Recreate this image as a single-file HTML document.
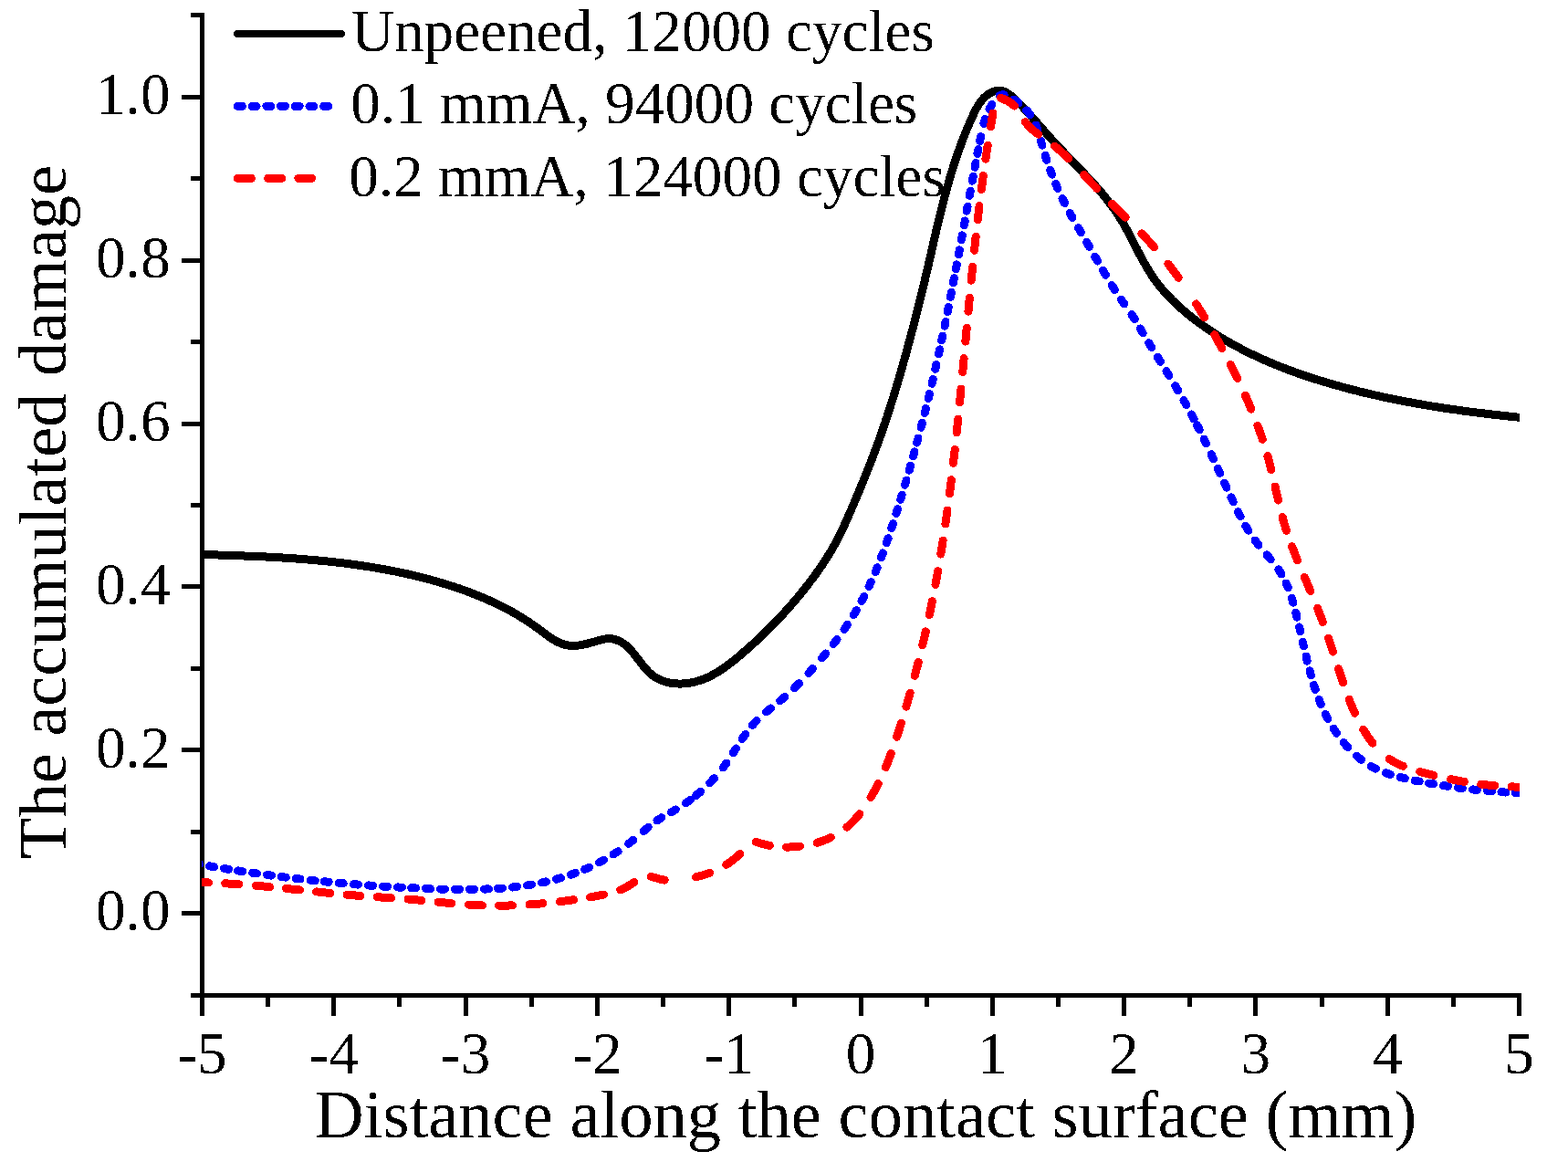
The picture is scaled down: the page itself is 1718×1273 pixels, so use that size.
<!DOCTYPE html>
<html lang="en"><head><meta charset="utf-8"><title>The accumulated damage vs distance along the contact surface</title>
<style>html,body{margin:0;padding:0;background:#fff;overflow:hidden}svg{display:block}</style>
</head><body>
<svg width="1718" height="1273" viewBox="0 0 1718 1273">
<defs>
<clipPath id="pa"><rect x="221" y="0" width="1444" height="1093"/></clipPath>
<filter id="bin" filterUnits="userSpaceOnUse" x="0" y="0" width="1718" height="1273"><feComponentTransfer><feFuncA type="discrete" tableValues="0 1"/></feComponentTransfer></filter>
</defs>
<rect width="1718" height="1273" fill="#fff"/>
<g fill="#000" shape-rendering="crispEdges">
<rect x="219" y="14" width="5" height="1079"/>
<rect x="219" y="1088" width="1448" height="5"/>
<rect x="209" y="1088" width="10" height="5"/>
<rect x="199" y="998" width="20" height="5"/>
<rect x="209" y="909" width="10" height="5"/>
<rect x="199" y="819" width="20" height="5"/>
<rect x="209" y="730" width="10" height="5"/>
<rect x="199" y="640" width="20" height="5"/>
<rect x="209" y="551" width="10" height="5"/>
<rect x="199" y="462" width="20" height="5"/>
<rect x="209" y="372" width="10" height="5"/>
<rect x="199" y="283" width="20" height="5"/>
<rect x="209" y="193" width="10" height="5"/>
<rect x="199" y="104" width="20" height="5"/>
<rect x="209" y="14" width="10" height="5"/>
<rect x="219" y="1093" width="5" height="20"/>
<rect x="291" y="1093" width="5" height="10"/>
<rect x="363" y="1093" width="5" height="20"/>
<rect x="435" y="1093" width="5" height="10"/>
<rect x="508" y="1093" width="5" height="20"/>
<rect x="580" y="1093" width="5" height="10"/>
<rect x="652" y="1093" width="5" height="20"/>
<rect x="724" y="1093" width="5" height="10"/>
<rect x="796" y="1093" width="5" height="20"/>
<rect x="868" y="1093" width="5" height="10"/>
<rect x="941" y="1093" width="5" height="20"/>
<rect x="1013" y="1093" width="5" height="10"/>
<rect x="1085" y="1093" width="5" height="20"/>
<rect x="1157" y="1093" width="5" height="10"/>
<rect x="1229" y="1093" width="5" height="20"/>
<rect x="1301" y="1093" width="5" height="10"/>
<rect x="1373" y="1093" width="5" height="20"/>
<rect x="1446" y="1093" width="5" height="10"/>
<rect x="1518" y="1093" width="5" height="20"/>
<rect x="1590" y="1093" width="5" height="10"/>
<rect x="1662" y="1093" width="5" height="20"/>
</g>
<g clip-path="url(#pa)" shape-rendering="crispEdges">
<path d="M218.0,607.4 L219.5,607.4 L221.0,607.5 L222.5,607.5 L224.0,607.6 L225.4,607.6 L226.9,607.6 L228.4,607.7 L229.9,607.7 L231.4,607.8 L232.9,607.8 L234.4,607.9 L235.9,607.9 L237.4,607.9 L238.9,608.0 L240.4,608.0 L241.9,608.1 L243.4,608.1 L244.8,608.2 L246.3,608.2 L247.8,608.3 L249.3,608.3 L250.8,608.4 L252.3,608.4 L253.8,608.5 L255.3,608.5 L256.8,608.6 L258.3,608.6 L259.8,608.7 L261.3,608.7 L262.8,608.8 L264.3,608.8 L265.8,608.9 L267.3,609.0 L268.8,609.0 L270.3,609.1 L271.8,609.1 L273.3,609.2 L274.8,609.3 L276.3,609.3 L277.8,609.4 L279.3,609.4 L280.8,609.5 L282.3,609.6 L283.8,609.6 L285.3,609.7 L286.8,609.8 L288.3,609.9 L289.8,609.9 L291.3,610.0 L292.8,610.1 L294.3,610.2 L295.8,610.2 L297.3,610.3 L298.8,610.4 L300.3,610.5 L301.8,610.6 L303.4,610.7 L304.9,610.7 L306.4,610.8 L307.9,610.9 L309.4,611.0 L310.9,611.1 L312.4,611.2 L313.9,611.3 L315.4,611.4 L316.9,611.5 L318.4,611.6 L319.9,611.7 L321.4,611.8 L322.9,611.9 L324.4,612.0 L325.9,612.1 L327.4,612.2 L328.9,612.3 L330.4,612.5 L331.9,612.6 L333.4,612.7 L334.9,612.8 L336.4,612.9 L337.9,613.1 L339.4,613.2 L340.9,613.3 L342.4,613.4 L343.9,613.6 L345.4,613.7 L346.9,613.9 L348.4,614.0 L349.9,614.1 L351.4,614.3 L352.9,614.4 L354.4,614.6 L355.9,614.7 L357.4,614.9 L358.9,615.0 L360.4,615.2 L361.8,615.3 L363.3,615.5 L364.8,615.7 L366.3,615.8 L367.8,616.0 L369.3,616.2 L370.8,616.3 L372.3,616.5 L373.8,616.7 L375.3,616.9 L376.8,617.0 L378.3,617.2 L379.8,617.4 L381.3,617.6 L382.7,617.8 L384.2,618.0 L385.7,618.2 L387.2,618.4 L388.7,618.6 L390.2,618.8 L391.7,619.0 L393.2,619.2 L394.6,619.4 L396.1,619.6 L397.6,619.9 L399.1,620.1 L400.6,620.3 L402.1,620.5 L403.5,620.8 L405.0,621.0 L406.5,621.2 L408.0,621.5 L409.5,621.7 L410.9,622.0 L412.4,622.2 L413.9,622.5 L415.4,622.7 L416.8,623.0 L418.3,623.3 L419.8,623.5 L421.3,623.8 L422.7,624.1 L424.2,624.3 L425.7,624.6 L427.1,624.9 L428.6,625.2 L430.1,625.5 L431.6,625.7 L433.0,626.0 L434.5,626.3 L436.0,626.6 L437.4,626.9 L438.9,627.3 L440.3,627.6 L441.8,627.9 L443.3,628.2 L444.7,628.5 L446.2,628.8 L447.6,629.2 L449.1,629.5 L450.6,629.8 L452.0,630.2 L453.5,630.5 L454.9,630.9 L456.4,631.2 L457.8,631.6 L459.3,631.9 L460.7,632.3 L462.2,632.7 L463.6,633.0 L465.1,633.4 L466.5,633.8 L468.0,634.2 L469.4,634.5 L470.9,634.9 L472.3,635.3 L473.7,635.7 L475.2,636.1 L476.6,636.5 L478.0,636.9 L479.5,637.4 L480.9,637.8 L482.4,638.2 L483.8,638.6 L485.2,639.0 L486.7,639.5 L488.1,639.9 L489.5,640.4 L490.9,640.8 L492.4,641.3 L493.8,641.7 L495.2,642.2 L496.6,642.6 L498.1,643.1 L499.5,643.6 L500.9,644.1 L502.3,644.5 L503.7,645.0 L505.1,645.5 L506.5,646.0 L508.0,646.5 L509.4,647.0 L510.8,647.5 L512.2,648.0 L513.6,648.6 L515.0,649.1 L516.4,649.6 L517.8,650.2 L519.2,650.7 L520.6,651.2 L522.0,651.8 L523.3,652.4 L524.7,652.9 L526.1,653.5 L527.5,654.1 L528.9,654.6 L530.3,655.2 L531.6,655.8 L533.0,656.4 L534.4,657.0 L535.8,657.6 L537.1,658.3 L538.5,658.9 L539.9,659.5 L541.2,660.1 L542.6,660.8 L543.9,661.4 L545.3,662.1 L546.6,662.7 L548.0,663.4 L549.3,664.1 L550.7,664.8 L552.0,665.4 L553.3,666.1 L554.7,666.8 L556.0,667.5 L557.3,668.3 L558.6,669.0 L560.0,669.7 L561.3,670.4 L562.6,671.2 L563.9,671.9 L565.2,672.7 L566.5,673.4 L567.8,674.2 L569.1,675.0 L570.4,675.8 L571.7,676.6 L573.0,677.4 L574.3,678.2 L575.5,679.0 L576.8,679.8 L578.1,680.6 L579.4,681.5 L580.6,682.3 L581.9,683.2 L583.1,684.0 L584.4,684.9 L585.6,685.8 L586.9,686.7 L588.1,687.6 L589.4,688.5 L590.6,689.4 L591.8,690.3 L593.1,691.2 L594.3,692.1 L595.5,693.0 L596.7,694.0 L598.0,694.9 L599.2,695.8 L600.4,696.7 L601.6,697.5 L602.9,698.4 L604.1,699.2 L605.3,700.0 L606.6,700.8 L607.9,701.6 L609.1,702.3 L610.4,703.0 L611.7,703.6 L613.0,704.2 L614.3,704.8 L615.6,705.3 L616.9,705.7 L618.3,706.1 L619.6,706.5 L621.0,706.8 L622.4,707.0 L623.8,707.2 L625.2,707.3 L626.6,707.3 L628.1,707.3 L629.5,707.3 L631.0,707.2 L632.5,707.1 L633.9,707.0 L635.4,706.8 L636.9,706.5 L638.4,706.3 L639.9,706.0 L641.4,705.7 L642.9,705.3 L644.4,704.9 L646.0,704.5 L647.5,704.1 L649.0,703.7 L650.5,703.3 L652.0,702.8 L653.5,702.4 L655.0,701.9 L656.6,701.5 L658.0,701.1 L659.5,700.7 L661.0,700.4 L662.5,700.1 L664.0,699.9 L665.4,699.8 L666.9,699.7 L668.3,699.7 L669.7,699.8 L671.1,700.0 L672.5,700.2 L673.8,700.6 L675.2,701.0 L676.5,701.5 L677.8,702.0 L679.1,702.6 L680.4,703.3 L681.6,704.0 L682.8,704.8 L684.0,705.7 L685.2,706.6 L686.3,707.5 L687.4,708.5 L688.5,709.6 L689.6,710.6 L690.6,711.7 L691.7,712.9 L692.7,714.0 L693.7,715.2 L694.7,716.4 L695.6,717.7 L696.6,718.9 L697.6,720.2 L698.6,721.4 L699.5,722.7 L700.5,723.9 L701.5,725.2 L702.4,726.5 L703.4,727.7 L704.4,729.0 L705.4,730.2 L706.4,731.4 L707.4,732.6 L708.4,733.7 L709.5,734.8 L710.5,735.9 L711.6,737.0 L712.7,738.0 L713.9,739.0 L715.0,739.9 L716.2,740.8 L717.5,741.6 L718.7,742.4 L720.0,743.2 L721.3,743.8 L722.6,744.5 L723.9,745.1 L725.3,745.6 L726.7,746.1 L728.1,746.6 L729.5,747.0 L730.9,747.4 L732.4,747.7 L733.8,748.0 L735.3,748.3 L736.8,748.5 L738.2,748.7 L739.7,748.8 L741.2,748.9 L742.8,749.0 L744.3,749.0 L745.8,749.0 L747.3,749.0 L748.8,748.9 L750.3,748.8 L751.8,748.6 L753.4,748.4 L754.9,748.2 L756.4,748.0 L757.8,747.7 L759.3,747.4 L760.8,747.1 L762.3,746.7 L763.7,746.3 L765.2,745.9 L766.6,745.5 L768.0,745.0 L769.4,744.5 L770.8,744.0 L772.2,743.4 L773.6,742.9 L774.9,742.3 L776.3,741.7 L777.6,741.0 L778.9,740.4 L780.2,739.7 L781.5,739.0 L782.8,738.3 L784.1,737.5 L785.4,736.8 L786.7,736.0 L787.9,735.2 L789.2,734.4 L790.4,733.6 L791.7,732.8 L792.9,731.9 L794.1,731.1 L795.4,730.2 L796.6,729.3 L797.8,728.4 L799.0,727.5 L800.2,726.6 L801.3,725.7 L802.5,724.8 L803.7,723.8 L804.9,722.9 L806.0,721.9 L807.2,721.0 L808.4,720.0 L809.5,719.0 L810.7,718.1 L811.8,717.1 L812.9,716.1 L814.1,715.1 L815.2,714.1 L816.4,713.2 L817.5,712.2 L818.6,711.2 L819.7,710.2 L820.9,709.2 L822.0,708.2 L823.1,707.2 L824.2,706.2 L825.3,705.2 L826.4,704.2 L827.5,703.2 L828.6,702.1 L829.7,701.1 L830.8,700.1 L831.9,699.1 L833.0,698.1 L834.1,697.0 L835.1,696.0 L836.2,695.0 L837.3,693.9 L838.4,692.9 L839.4,691.8 L840.5,690.8 L841.6,689.7 L842.6,688.7 L843.7,687.6 L844.7,686.6 L845.8,685.5 L846.8,684.5 L847.9,683.4 L848.9,682.3 L849.9,681.3 L851.0,680.2 L852.0,679.1 L853.0,678.0 L854.0,676.9 L855.1,675.8 L856.1,674.8 L857.1,673.7 L858.1,672.6 L859.1,671.5 L860.1,670.4 L861.1,669.2 L862.1,668.1 L863.1,667.0 L864.1,665.9 L865.1,664.8 L866.1,663.7 L867.1,662.5 L868.1,661.4 L869.0,660.3 L870.0,659.1 L871.0,658.0 L871.9,656.8 L872.9,655.7 L873.9,654.5 L874.8,653.4 L875.8,652.2 L876.7,651.1 L877.7,649.9 L878.6,648.7 L879.6,647.6 L880.5,646.4 L881.5,645.2 L882.4,644.0 L883.3,642.8 L884.3,641.6 L885.2,640.5 L886.1,639.3 L887.0,638.0 L887.9,636.8 L888.8,635.6 L889.8,634.4 L890.7,633.2 L891.6,632.0 L892.5,630.8 L893.4,629.5 L894.3,628.3 L895.1,627.1 L896.0,625.8 L896.9,624.6 L897.8,623.3 L898.7,622.1 L899.5,620.8 L900.4,619.6 L901.2,618.3 L902.1,617.0 L902.9,615.8 L903.8,614.5 L904.6,613.2 L905.4,611.9 L906.2,610.7 L907.0,609.4 L907.8,608.1 L908.6,606.8 L909.4,605.5 L910.2,604.2 L910.9,602.9 L911.7,601.6 L912.4,600.3 L913.2,599.0 L913.9,597.7 L914.6,596.4 L915.3,595.1 L916.0,593.8 L916.7,592.5 L917.4,591.1 L918.1,589.8 L918.8,588.5 L919.4,587.2 L920.1,585.8 L920.8,584.5 L921.4,583.2 L922.0,581.8 L922.7,580.5 L923.3,579.2 L923.9,577.8 L924.6,576.5 L925.2,575.1 L925.8,573.8 L926.4,572.4 L927.0,571.1 L927.6,569.7 L928.2,568.4 L928.8,567.0 L929.4,565.7 L930.0,564.3 L930.6,563.0 L931.2,561.6 L931.8,560.3 L932.4,558.9 L933.0,557.5 L933.6,556.2 L934.2,554.8 L934.7,553.4 L935.3,552.1 L935.9,550.7 L936.5,549.3 L937.1,548.0 L937.7,546.6 L938.2,545.2 L938.8,543.9 L939.4,542.5 L940.0,541.1 L940.6,539.7 L941.1,538.4 L941.7,537.0 L942.3,535.6 L942.9,534.2 L943.4,532.8 L944.0,531.5 L944.6,530.1 L945.1,528.7 L945.7,527.3 L946.3,525.9 L946.8,524.5 L947.4,523.1 L948.0,521.7 L948.5,520.4 L949.1,519.0 L949.6,517.6 L950.2,516.2 L950.7,514.8 L951.3,513.4 L951.8,512.0 L952.4,510.6 L952.9,509.2 L953.5,507.8 L954.0,506.4 L954.6,505.0 L955.1,503.6 L955.6,502.2 L956.2,500.8 L956.7,499.4 L957.2,498.0 L957.8,496.6 L958.3,495.2 L958.8,493.8 L959.3,492.4 L959.9,491.0 L960.4,489.6 L960.9,488.1 L961.4,486.7 L961.9,485.3 L962.4,483.9 L963.0,482.5 L963.5,481.1 L964.0,479.7 L964.5,478.3 L965.0,476.8 L965.5,475.4 L966.0,474.0 L966.5,472.6 L966.9,471.2 L967.4,469.7 L967.9,468.3 L968.4,466.9 L968.9,465.5 L969.4,464.1 L969.9,462.6 L970.3,461.2 L970.8,459.8 L971.3,458.4 L971.8,456.9 L972.2,455.5 L972.7,454.1 L973.2,452.7 L973.6,451.2 L974.1,449.8 L974.6,448.4 L975.0,446.9 L975.5,445.5 L975.9,444.1 L976.4,442.6 L976.8,441.2 L977.3,439.8 L977.7,438.3 L978.2,436.9 L978.6,435.5 L979.1,434.0 L979.5,432.6 L980.0,431.2 L980.4,429.7 L980.8,428.3 L981.3,426.8 L981.7,425.4 L982.1,424.0 L982.6,422.5 L983.0,421.1 L983.4,419.6 L983.9,418.2 L984.3,416.8 L984.7,415.3 L985.1,413.9 L985.6,412.4 L986.0,411.0 L986.4,409.5 L986.8,408.1 L987.2,406.7 L987.7,405.2 L988.1,403.8 L988.5,402.3 L988.9,400.9 L989.3,399.4 L989.7,398.0 L990.1,396.5 L990.5,395.1 L990.9,393.6 L991.3,392.2 L991.7,390.7 L992.2,389.3 L992.6,387.8 L993.0,386.4 L993.4,384.9 L993.8,383.5 L994.2,382.0 L994.5,380.6 L994.9,379.1 L995.3,377.7 L995.7,376.2 L996.1,374.8 L996.5,373.3 L996.9,371.9 L997.3,370.4 L997.7,369.0 L998.1,367.5 L998.5,366.0 L998.8,364.6 L999.2,363.1 L999.6,361.7 L1000.0,360.2 L1000.4,358.8 L1000.8,357.3 L1001.1,355.9 L1001.5,354.4 L1001.9,352.9 L1002.3,351.5 L1002.7,350.0 L1003.0,348.6 L1003.4,347.1 L1003.8,345.7 L1004.1,344.2 L1004.5,342.7 L1004.9,341.3 L1005.3,339.8 L1005.6,338.4 L1006.0,336.9 L1006.4,335.4 L1006.7,334.0 L1007.1,332.5 L1007.4,331.1 L1007.8,329.6 L1008.2,328.2 L1008.5,326.7 L1008.9,325.2 L1009.2,323.8 L1009.6,322.3 L1010.0,320.9 L1010.3,319.4 L1010.7,317.9 L1011.0,316.5 L1011.4,315.0 L1011.7,313.6 L1012.1,312.1 L1012.4,310.6 L1012.8,309.2 L1013.1,307.7 L1013.5,306.3 L1013.8,304.8 L1014.1,303.4 L1014.5,301.9 L1014.8,300.4 L1015.2,299.0 L1015.5,297.5 L1015.8,296.1 L1016.2,294.6 L1016.5,293.1 L1016.9,291.7 L1017.2,290.2 L1017.5,288.8 L1017.9,287.3 L1018.2,285.9 L1018.5,284.4 L1018.9,282.9 L1019.2,281.5 L1019.5,280.0 L1019.9,278.6 L1020.2,277.1 L1020.5,275.7 L1020.9,274.2 L1021.2,272.8 L1021.5,271.3 L1021.9,269.9 L1022.2,268.4 L1022.5,266.9 L1022.9,265.5 L1023.2,264.0 L1023.5,262.6 L1023.9,261.1 L1024.2,259.7 L1024.5,258.2 L1024.9,256.8 L1025.2,255.3 L1025.6,253.9 L1025.9,252.4 L1026.2,251.0 L1026.6,249.5 L1026.9,248.1 L1027.3,246.6 L1027.6,245.2 L1028.0,243.7 L1028.3,242.3 L1028.7,240.8 L1029.0,239.4 L1029.4,237.9 L1029.7,236.5 L1030.1,235.0 L1030.4,233.6 L1030.8,232.2 L1031.1,230.7 L1031.5,229.3 L1031.9,227.8 L1032.2,226.4 L1032.6,224.9 L1033.0,223.5 L1033.3,222.1 L1033.7,220.6 L1034.1,219.2 L1034.5,217.7 L1034.8,216.3 L1035.2,214.8 L1035.6,213.4 L1036.0,212.0 L1036.4,210.5 L1036.8,209.1 L1037.2,207.7 L1037.6,206.2 L1038.0,204.8 L1038.4,203.3 L1038.8,201.9 L1039.2,200.5 L1039.6,199.0 L1040.0,197.6 L1040.4,196.2 L1040.8,194.7 L1041.3,193.3 L1041.7,191.9 L1042.1,190.4 L1042.6,189.0 L1043.0,187.6 L1043.4,186.2 L1043.9,184.7 L1044.3,183.3 L1044.8,181.9 L1045.2,180.4 L1045.7,179.0 L1046.2,177.6 L1046.6,176.2 L1047.1,174.7 L1047.6,173.3 L1048.1,171.9 L1048.5,170.5 L1049.0,169.0 L1049.5,167.6 L1050.0,166.2 L1050.5,164.8 L1051.0,163.3 L1051.5,161.9 L1052.1,160.5 L1052.6,159.1 L1053.1,157.6 L1053.6,156.2 L1054.2,154.8 L1054.7,153.4 L1055.2,152.0 L1055.8,150.5 L1056.4,149.1 L1056.9,147.7 L1057.5,146.3 L1058.1,144.9 L1058.6,143.4 L1059.2,142.0 L1059.8,140.6 L1060.4,139.2 L1061.0,137.8 L1061.6,136.4 L1062.2,135.0 L1062.8,133.5 L1063.5,132.1 L1064.1,130.7 L1064.7,129.3 L1065.4,127.9 L1066.0,126.5 L1066.7,125.1 L1067.3,123.7 L1068.0,122.3 L1068.7,120.9 L1069.4,119.5 L1070.2,118.2 L1070.9,116.9 L1071.7,115.5 L1072.5,114.3 L1073.3,113.0 L1074.2,111.8 L1075.1,110.6 L1076.0,109.5 L1077.0,108.4 L1078.0,107.3 L1079.1,106.3 L1080.2,105.3 L1081.3,104.4 L1082.5,103.5 L1083.7,102.7 L1085.0,101.9 L1086.3,101.2 L1087.7,100.6 L1089.0,100.1 L1090.4,99.7 L1091.8,99.4 L1093.1,99.2 L1094.4,99.2 L1095.8,99.2 L1097.1,99.4 L1098.3,99.7 L1099.6,100.1 L1100.8,100.6 L1102.1,101.2 L1103.3,101.8 L1104.5,102.6 L1105.7,103.4 L1106.8,104.2 L1108.0,105.1 L1109.2,106.1 L1110.3,107.1 L1111.4,108.1 L1112.6,109.2 L1113.7,110.2 L1114.8,111.3 L1115.9,112.4 L1117.0,113.5 L1118.1,114.6 L1119.2,115.7 L1120.3,116.8 L1121.3,117.9 L1122.4,119.1 L1123.5,120.2 L1124.5,121.4 L1125.6,122.5 L1126.6,123.7 L1127.7,124.8 L1128.7,126.0 L1129.7,127.1 L1130.8,128.3 L1131.8,129.5 L1132.8,130.6 L1133.9,131.8 L1134.9,133.0 L1135.9,134.1 L1136.9,135.3 L1137.9,136.4 L1138.9,137.6 L1139.9,138.8 L1140.9,139.9 L1141.9,141.0 L1142.9,142.2 L1143.9,143.3 L1144.9,144.4 L1145.9,145.5 L1146.9,146.7 L1147.9,147.8 L1148.9,148.9 L1149.9,150.0 L1150.9,151.1 L1151.8,152.2 L1152.8,153.2 L1153.8,154.3 L1154.8,155.4 L1155.8,156.5 L1156.8,157.6 L1157.8,158.6 L1158.8,159.7 L1159.8,160.8 L1160.8,161.8 L1161.8,162.9 L1162.8,164.0 L1163.8,165.0 L1164.8,166.1 L1165.8,167.2 L1166.8,168.2 L1167.8,169.3 L1168.8,170.4 L1169.8,171.4 L1170.8,172.5 L1171.8,173.5 L1172.9,174.6 L1173.9,175.7 L1174.9,176.7 L1176.0,177.8 L1177.0,178.9 L1178.0,180.0 L1179.1,181.0 L1180.1,182.1 L1181.2,183.2 L1182.2,184.3 L1183.3,185.4 L1184.3,186.5 L1185.4,187.6 L1186.4,188.6 L1187.5,189.7 L1188.5,190.8 L1189.5,191.9 L1190.6,193.1 L1191.6,194.2 L1192.7,195.3 L1193.7,196.4 L1194.8,197.5 L1195.8,198.6 L1196.8,199.8 L1197.8,200.9 L1198.9,202.0 L1199.9,203.2 L1200.9,204.3 L1201.9,205.4 L1202.9,206.6 L1203.9,207.7 L1204.9,208.9 L1205.9,210.1 L1206.9,211.2 L1207.8,212.4 L1208.8,213.6 L1209.8,214.7 L1210.7,215.9 L1211.7,217.1 L1212.6,218.3 L1213.5,219.5 L1214.5,220.7 L1215.4,221.9 L1216.3,223.1 L1217.2,224.3 L1218.1,225.5 L1219.0,226.7 L1219.8,228.0 L1220.7,229.2 L1221.6,230.4 L1222.4,231.7 L1223.3,232.9 L1224.1,234.1 L1224.9,235.4 L1225.7,236.6 L1226.5,237.9 L1227.3,239.1 L1228.1,240.4 L1228.9,241.6 L1229.6,242.9 L1230.4,244.2 L1231.1,245.5 L1231.9,246.7 L1232.6,248.0 L1233.3,249.3 L1234.0,250.6 L1234.7,251.9 L1235.4,253.2 L1236.1,254.5 L1236.8,255.8 L1237.5,257.1 L1238.2,258.4 L1238.9,259.7 L1239.5,261.0 L1240.2,262.3 L1240.9,263.6 L1241.6,265.0 L1242.2,266.3 L1242.9,267.6 L1243.6,268.9 L1244.3,270.3 L1245.0,271.6 L1245.7,272.9 L1246.3,274.3 L1247.0,275.6 L1247.7,276.9 L1248.4,278.3 L1249.1,279.6 L1249.8,280.9 L1250.5,282.3 L1251.3,283.6 L1252.0,284.9 L1252.7,286.2 L1253.4,287.5 L1254.2,288.8 L1254.9,290.2 L1255.7,291.5 L1256.4,292.8 L1257.2,294.0 L1258.0,295.3 L1258.8,296.6 L1259.6,297.9 L1260.4,299.2 L1261.2,300.4 L1262.0,301.7 L1262.8,302.9 L1263.7,304.2 L1264.5,305.4 L1265.4,306.6 L1266.3,307.8 L1267.2,309.0 L1268.1,310.2 L1269.0,311.4 L1269.9,312.6 L1270.9,313.8 L1271.8,315.0 L1272.8,316.1 L1273.7,317.3 L1274.7,318.4 L1275.7,319.5 L1276.7,320.7 L1277.7,321.8 L1278.7,322.9 L1279.7,324.0 L1280.8,325.1 L1281.8,326.2 L1282.9,327.2 L1283.9,328.3 L1285.0,329.4 L1286.1,330.4 L1287.1,331.5 L1288.2,332.5 L1289.3,333.5 L1290.4,334.6 L1291.5,335.6 L1292.7,336.6 L1293.8,337.6 L1294.9,338.6 L1296.0,339.6 L1297.2,340.6 L1298.3,341.5 L1299.5,342.5 L1300.7,343.5 L1301.8,344.4 L1303.0,345.4 L1304.2,346.3 L1305.3,347.2 L1306.5,348.2 L1307.7,349.1 L1308.9,350.0 L1310.1,350.9 L1311.3,351.8 L1312.5,352.7 L1313.7,353.6 L1315.0,354.5 L1316.2,355.4 L1317.4,356.3 L1318.6,357.1 L1319.8,358.0 L1321.1,358.9 L1322.3,359.7 L1323.5,360.6 L1324.8,361.4 L1326.0,362.2 L1327.3,363.1 L1328.5,363.9 L1329.8,364.7 L1331.0,365.5 L1332.3,366.3 L1333.6,367.1 L1334.8,367.9 L1336.1,368.7 L1337.4,369.5 L1338.7,370.3 L1339.9,371.0 L1341.2,371.8 L1342.5,372.6 L1343.8,373.3 L1345.1,374.1 L1346.4,374.8 L1347.7,375.6 L1349.0,376.3 L1350.3,377.0 L1351.6,377.8 L1352.9,378.5 L1354.2,379.2 L1355.5,379.9 L1356.9,380.6 L1358.2,381.3 L1359.5,382.0 L1360.8,382.7 L1362.2,383.4 L1363.5,384.1 L1364.8,384.7 L1366.2,385.4 L1367.5,386.1 L1368.8,386.7 L1370.2,387.4 L1371.5,388.1 L1372.9,388.7 L1374.2,389.3 L1375.6,390.0 L1376.9,390.6 L1378.3,391.2 L1379.7,391.9 L1381.0,392.5 L1382.4,393.1 L1383.8,393.7 L1385.1,394.3 L1386.5,394.9 L1387.9,395.5 L1389.2,396.1 L1390.6,396.7 L1392.0,397.3 L1393.4,397.9 L1394.8,398.5 L1396.1,399.0 L1397.5,399.6 L1398.9,400.2 L1400.3,400.7 L1401.7,401.3 L1403.1,401.8 L1404.5,402.4 L1405.9,402.9 L1407.3,403.5 L1408.7,404.0 L1410.1,404.5 L1411.5,405.1 L1412.9,405.6 L1414.3,406.1 L1415.7,406.6 L1417.1,407.1 L1418.5,407.7 L1419.9,408.2 L1421.4,408.7 L1422.8,409.2 L1424.2,409.7 L1425.6,410.2 L1427.0,410.6 L1428.5,411.1 L1429.9,411.6 L1431.3,412.1 L1432.7,412.6 L1434.1,413.0 L1435.6,413.5 L1437.0,414.0 L1438.4,414.4 L1439.9,414.9 L1441.3,415.4 L1442.7,415.8 L1444.2,416.3 L1445.6,416.7 L1447.0,417.1 L1448.5,417.6 L1449.9,418.0 L1451.3,418.5 L1452.8,418.9 L1454.2,419.3 L1455.7,419.7 L1457.1,420.2 L1458.5,420.6 L1460.0,421.0 L1461.4,421.4 L1462.9,421.8 L1464.3,422.2 L1465.8,422.6 L1467.2,423.0 L1468.6,423.4 L1470.1,423.8 L1471.5,424.2 L1473.0,424.6 L1474.4,425.0 L1475.9,425.4 L1477.3,425.8 L1478.8,426.2 L1480.2,426.5 L1481.7,426.9 L1483.1,427.3 L1484.6,427.7 L1486.1,428.0 L1487.5,428.4 L1489.0,428.8 L1490.4,429.1 L1491.9,429.5 L1493.3,429.8 L1494.8,430.2 L1496.2,430.5 L1497.7,430.9 L1499.2,431.2 L1500.6,431.6 L1502.1,431.9 L1503.5,432.2 L1505.0,432.6 L1506.5,432.9 L1507.9,433.2 L1509.4,433.6 L1510.9,433.9 L1512.3,434.2 L1513.8,434.5 L1515.3,434.9 L1516.7,435.2 L1518.2,435.5 L1519.7,435.8 L1521.1,436.1 L1522.6,436.4 L1524.1,436.7 L1525.5,437.0 L1527.0,437.3 L1528.5,437.6 L1529.9,437.9 L1531.4,438.2 L1532.9,438.5 L1534.4,438.8 L1535.8,439.1 L1537.3,439.4 L1538.8,439.6 L1540.2,439.9 L1541.7,440.2 L1543.2,440.5 L1544.7,440.7 L1546.1,441.0 L1547.6,441.3 L1549.1,441.6 L1550.6,441.8 L1552.0,442.1 L1553.5,442.4 L1555.0,442.6 L1556.5,442.9 L1558.0,443.1 L1559.4,443.4 L1560.9,443.6 L1562.4,443.9 L1563.9,444.1 L1565.4,444.4 L1566.8,444.6 L1568.3,444.9 L1569.8,445.1 L1571.3,445.3 L1572.8,445.6 L1574.2,445.8 L1575.7,446.1 L1577.2,446.3 L1578.7,446.5 L1580.2,446.7 L1581.7,447.0 L1583.1,447.2 L1584.6,447.4 L1586.1,447.6 L1587.6,447.9 L1589.1,448.1 L1590.6,448.3 L1592.1,448.5 L1593.5,448.7 L1595.0,448.9 L1596.5,449.1 L1598.0,449.3 L1599.5,449.6 L1601.0,449.8 L1602.5,450.0 L1603.9,450.2 L1605.4,450.4 L1606.9,450.6 L1608.4,450.8 L1609.9,451.0 L1611.4,451.2 L1612.9,451.3 L1614.4,451.5 L1615.8,451.7 L1617.3,451.9 L1618.8,452.1 L1620.3,452.3 L1621.8,452.5 L1623.3,452.7 L1624.8,452.8 L1626.3,453.0 L1627.8,453.2 L1629.2,453.4 L1630.7,453.6 L1632.2,453.7 L1633.7,453.9 L1635.2,454.1 L1636.7,454.3 L1638.2,454.4 L1639.7,454.6 L1641.2,454.8 L1642.7,454.9 L1644.1,455.1 L1645.6,455.3 L1647.1,455.4 L1648.6,455.6 L1650.1,455.7 L1651.6,455.9 L1653.1,456.1 L1654.6,456.2 L1656.1,456.4 L1657.6,456.5 L1659.1,456.7 L1660.5,456.8 L1662.0,457.0 L1663.5,457.2 L1665.0,457.3 L1666.5,457.5 L1668.0,457.6" fill="none" stroke="#000" stroke-width="9" stroke-linejoin="round"/>
<path d="M218.0,946.8 L218.6,946.9 M229.6,948.8 L229.9,948.9 L230.9,949.1 L231.8,949.2 L232.8,949.4 L233.8,949.6 L234.6,949.7 M245.5,951.5 L245.7,951.5 L246.7,951.7 L247.7,951.8 L248.7,952.0 L249.7,952.2 L250.5,952.3 M260.7,953.9 L261.5,954.0 L262.5,954.2 L263.5,954.3 L264.5,954.5 L265.5,954.6 L265.7,954.7 M276.6,956.3 L277.3,956.4 L278.3,956.5 L279.3,956.6 L280.3,956.8 L281.3,956.9 L281.6,957.0 M292.5,958.5 L293.2,958.6 L294.2,958.7 L295.1,958.8 L296.1,959.0 L297.1,959.1 L297.5,959.1 M308.3,960.5 L309.0,960.6 L310.0,960.7 L311.0,960.9 L312.0,961.0 L313.0,961.1 L313.3,961.1 M324.1,962.4 L324.8,962.5 L325.8,962.6 L326.8,962.8 L327.8,962.9 L328.8,963.0 L329.1,963.0 M340.2,964.2 L340.7,964.3 L341.7,964.4 L342.7,964.5 L343.7,964.6 L344.7,964.7 L345.2,964.8 M355.2,965.8 L355.6,965.8 L356.6,965.9 L357.6,966.0 L358.6,966.1 L359.6,966.2 L360.2,966.3 M371.2,967.3 L371.5,967.3 L372.5,967.4 L373.5,967.5 L374.5,967.6 L375.5,967.7 L376.2,967.7 M387.5,968.7 L388.4,968.7 L389.4,968.8 L390.4,968.9 L391.4,969.0 L392.4,969.1 L392.5,969.1 M403.5,969.9 L404.3,970.0 L405.3,970.0 L406.3,970.1 L407.3,970.2 L408.3,970.2 L408.5,970.3 M419.5,971.0 L420.3,971.0 L421.3,971.1 L422.3,971.2 L423.3,971.2 L424.3,971.3 L424.5,971.3 M435.5,971.9 L436.3,972.0 L437.3,972.0 L438.3,972.1 L439.3,972.1 L440.3,972.2 L440.5,972.2 M450.7,972.7 L451.3,972.7 L452.3,972.8 L453.3,972.8 L454.3,972.9 L455.3,972.9 L455.7,973.0 M466.5,973.4 L467.4,973.4 L468.4,973.5 L469.4,973.5 L470.4,973.6 L471.4,973.6 L471.5,973.6 M482.5,974.0 L483.4,974.0 L484.5,974.0 L485.5,974.1 L486.5,974.1 L487.5,974.1 L487.5,974.1 M498.5,974.3 L498.5,974.3 L499.6,974.3 L500.6,974.4 L501.6,974.4 L502.6,974.4 L503.5,974.4 M514.5,974.4 L514.6,974.4 L515.6,974.4 L516.7,974.4 L517.7,974.4 L518.7,974.3 L519.5,974.3 M530.5,974.1 L530.7,974.1 L531.7,974.0 L532.7,974.0 L533.7,973.9 L534.7,973.9 L535.5,973.9 M545.6,973.3 L545.7,973.3 L546.7,973.2 L547.7,973.2 L548.7,973.1 L549.7,973.0 L550.6,973.0 M561.5,972.0 L561.6,971.9 L562.6,971.8 L563.6,971.7 L564.5,971.6 L565.5,971.5 L566.5,971.4 L566.5,971.4 M577.5,969.9 L578.3,969.8 L579.3,969.6 L580.3,969.5 L581.3,969.3 L582.3,969.1 L582.5,969.1 M593.4,967.0 L593.9,966.9 L594.9,966.7 L595.9,966.5 L596.9,966.3 L597.8,966.1 L598.4,965.9 M609.5,963.2 L610.3,962.9 L611.3,962.7 L612.3,962.4 L613.2,962.1 L614.2,961.9 L614.5,961.8 M625.4,958.2 L625.5,958.2 L626.5,957.9 L627.4,957.5 L628.4,957.2 L629.3,956.9 L630.3,956.5 L630.4,956.4 M640.6,952.4 L641.4,952.0 L642.4,951.6 L643.3,951.2 L644.2,950.8 L645.1,950.4 L645.6,950.2 M656.5,944.9 L656.9,944.7 L657.8,944.2 L658.7,943.7 L659.6,943.2 L660.4,942.8 L661.3,942.3 L661.5,942.2 M672.1,935.9 L672.6,935.6 L673.4,935.1 L674.3,934.5 L675.1,934.0 L676.0,933.4 L676.8,932.9 L677.1,932.7 M688.7,924.3 L689.0,924.1 L689.8,923.5 L690.6,922.9 L691.3,922.2 L692.1,921.6 L692.9,921.0 L693.6,920.4 L693.7,920.3 M705.2,910.5 L705.7,910.1 L706.5,909.4 L707.2,908.8 L708.0,908.1 L708.8,907.5 L709.5,906.9 L710.2,906.3 M720.0,898.9 L720.6,898.5 L721.4,898.0 L722.2,897.4 L723.1,896.9 L723.9,896.4 L724.7,895.9 L725.0,895.7 M735.3,889.8 L736.1,889.4 L736.9,888.9 L737.8,888.4 L738.7,887.9 L739.6,887.4 L740.3,887.0 M751.5,879.7 L752.2,879.2 L753.1,878.6 L753.9,878.1 L754.7,877.5 L755.5,876.9 L756.3,876.3 L756.5,876.2 M762.6,871.5 L762.7,871.4 L763.4,870.7 L764.2,870.1 L765.0,869.5 L765.8,868.8 L766.5,868.2 L767.3,867.5 L767.6,867.3 M777.7,857.8 L778.2,857.2 L778.9,856.5 L779.6,855.8 L780.3,855.1 L781.0,854.3 L781.7,853.6 L782.4,852.9 L782.5,852.8 M792.3,841.0 L792.6,840.6 L793.2,839.8 L793.8,838.9 L794.4,838.1 L795.0,837.3 L795.6,836.5 L795.9,836.0 M803.2,825.0 L803.3,824.8 L803.9,823.9 L804.4,823.1 L805.0,822.3 L805.5,821.4 L806.0,820.6 L806.4,820.0 M813.2,809.5 L813.6,808.8 L814.2,808.0 L814.8,807.1 L815.3,806.3 L815.9,805.5 L816.5,804.7 L816.6,804.5 M824.5,794.4 L825.0,793.8 L825.7,793.0 L826.3,792.3 L827.0,791.6 L827.7,790.9 L828.4,790.1 L829.1,789.4 L829.1,789.4 M839.5,780.0 L840.2,779.4 L841.0,778.8 L841.8,778.2 L842.5,777.5 L843.3,776.9 L844.1,776.3 L844.5,776.0 M854.8,767.7 L855.0,767.4 L855.8,766.8 L856.6,766.2 L857.3,765.5 L858.1,764.9 L858.9,764.2 L859.6,763.6 L859.8,763.4 M870.5,753.6 L870.6,753.4 L871.3,752.7 L872.0,752.0 L872.7,751.3 L873.4,750.6 L874.1,749.9 L874.8,749.2 L875.5,748.6 M885.9,737.5 L886.5,737.0 L887.2,736.2 L887.8,735.5 L888.5,734.7 L889.2,734.0 L889.8,733.2 L890.5,732.5 M900.5,721.0 L901.0,720.4 L901.7,719.6 L902.3,718.9 L903.0,718.1 L903.6,717.3 L904.3,716.5 L904.7,716.0 M913.2,705.4 L913.7,704.8 L914.3,704.0 L914.9,703.2 L915.5,702.4 L916.1,701.6 L916.8,700.8 L917.1,700.4 M925.0,689.4 L925.6,688.6 L926.2,687.7 L926.7,686.9 L927.3,686.1 L927.8,685.2 L928.4,684.4 L928.4,684.4 M935.3,673.6 L935.4,673.5 L935.9,672.6 L936.5,671.7 L937.0,670.9 L937.5,670.0 L938.0,669.2 L938.3,668.6 M944.0,658.5 L944.3,657.9 L944.8,657.0 L945.3,656.1 L945.7,655.2 L946.2,654.3 L946.6,653.5 M952.0,642.6 L952.4,641.9 L952.8,641.0 L953.2,640.0 L953.6,639.1 L954.0,638.2 L954.3,637.6 M959.1,626.7 L959.2,626.4 L959.6,625.5 L960.0,624.5 L960.4,623.6 L960.8,622.7 L961.1,621.8 L961.2,621.7 M965.5,610.8 L965.5,610.6 L965.9,609.7 L966.2,608.8 L966.6,607.8 L966.9,606.9 L967.3,606.0 L967.3,605.8 M971.3,594.7 L971.3,594.7 L971.7,593.7 L972.0,592.8 L972.3,591.8 L972.7,590.9 L973.0,590.0 L973.1,589.7 M976.8,578.7 L976.8,578.6 L977.1,577.6 L977.4,576.7 L977.7,575.7 L978.1,574.8 L978.4,573.8 L978.4,573.7 M981.9,562.6 L982.0,562.3 L982.3,561.4 L982.6,560.4 L982.9,559.5 L983.2,558.5 L983.5,557.6 M986.7,547.2 L986.8,547.0 L987.1,546.1 L987.4,545.1 L987.6,544.1 L987.9,543.2 L988.2,542.2 L988.2,542.2 M991.5,531.2 L991.7,530.7 L992.0,529.7 L992.2,528.8 L992.5,527.8 L992.8,526.9 L993.0,526.2 M996.2,515.2 L996.5,514.4 L996.7,513.4 L997.0,512.4 L997.3,511.5 L997.6,510.5 L997.6,510.2 M1000.6,499.9 L1000.8,498.9 L1001.1,498.0 L1001.4,497.0 L1001.6,496.0 L1001.9,495.1 L1002.0,494.9 M1004.6,485.1 L1004.8,484.5 L1005.1,483.5 L1005.3,482.5 L1005.6,481.6 L1005.9,480.6 L1006.0,480.1 M1009.1,468.3 L1009.2,468.0 L1009.5,467.0 L1009.7,466.1 L1010.0,465.1 L1010.2,464.1 L1010.4,463.3 M1013.2,452.5 L1013.4,451.5 L1013.7,450.6 L1013.9,449.6 L1014.2,448.6 L1014.4,447.6 L1014.5,447.5 M1017.2,436.5 L1017.3,436.0 L1017.5,435.0 L1017.8,434.1 L1018.0,433.1 L1018.3,432.1 L1018.4,431.5 M1021.1,420.3 L1021.3,419.5 L1021.5,418.5 L1021.7,417.5 L1022.0,416.5 L1022.2,415.6 L1022.2,415.3 M1024.8,404.3 L1024.9,403.9 L1025.1,402.9 L1025.3,401.9 L1025.6,401.0 L1025.8,400.0 L1025.9,399.3 M1028.5,387.9 L1028.6,387.3 L1028.8,386.3 L1029.0,385.4 L1029.2,384.4 L1029.4,383.4 L1029.6,382.9 M1031.7,373.0 L1031.8,372.7 L1032.0,371.7 L1032.2,370.7 L1032.4,369.7 L1032.6,368.7 L1032.8,368.0 M1035.0,357.3 L1035.0,357.0 L1035.3,356.0 L1035.5,355.1 L1035.7,354.1 L1035.9,353.1 L1036.0,352.3 M1038.2,341.4 L1038.3,341.4 L1038.4,340.4 L1038.6,339.4 L1038.8,338.4 L1039.0,337.4 L1039.2,336.5 L1039.2,336.4 M1041.4,325.4 L1041.6,324.7 L1041.8,323.7 L1042.0,322.7 L1042.1,321.8 L1042.3,320.8 L1042.4,320.4 M1044.5,309.7 L1044.6,309.0 L1044.8,308.0 L1045.0,307.0 L1045.2,306.1 L1045.4,305.1 L1045.5,304.7 M1047.3,294.8 L1047.4,294.3 L1047.6,293.3 L1047.8,292.3 L1048.0,291.3 L1048.2,290.4 L1048.3,289.8 M1050.4,278.8 L1050.4,278.6 L1050.6,277.6 L1050.8,276.6 L1051.0,275.6 L1051.2,274.6 L1051.3,273.8 M1053.3,262.9 L1053.3,262.8 L1053.5,261.9 L1053.7,260.9 L1053.9,259.9 L1054.1,258.9 L1054.3,257.9 L1054.3,257.9 M1056.3,246.9 L1056.4,246.1 L1056.6,245.1 L1056.8,244.2 L1057.0,243.2 L1057.2,242.2 L1057.2,241.9 M1059.2,231.2 L1059.3,230.4 L1059.5,229.4 L1059.7,228.4 L1059.9,227.4 L1060.1,226.5 L1060.1,226.2 M1062.3,214.2 L1062.4,213.7 L1062.6,212.7 L1062.8,211.7 L1063.0,210.7 L1063.2,209.7 L1063.3,209.2 M1065.3,198.1 L1065.4,197.9 L1065.5,196.9 L1065.7,195.9 L1065.9,195.0 L1066.1,194.0 L1066.2,193.1 M1068.1,183.3 L1068.1,183.1 L1068.3,182.1 L1068.5,181.2 L1068.7,180.2 L1068.9,179.2 L1069.0,178.3 M1070.9,168.5 L1070.9,168.4 L1071.1,167.4 L1071.3,166.4 L1071.5,165.4 L1071.7,164.5 L1071.9,163.5 M1073.6,154.6 L1073.8,153.7 L1074.0,152.7 L1074.2,151.7 L1074.4,150.7 L1074.6,149.8 L1074.6,149.6 M1077.9,135.5 L1077.9,135.2 L1078.2,134.2 L1078.5,133.2 L1078.8,132.3 L1079.1,131.3 L1079.4,130.5 M1084.0,119.4 L1084.3,118.9 L1084.8,117.9 L1085.3,117.0 L1085.8,116.0 L1086.4,115.1 L1086.8,114.4 M1095.2,104.9 L1095.3,104.9 L1096.0,104.5 L1096.8,104.2 L1097.6,104.0 L1098.4,103.9 L1099.2,103.8 L1100.0,103.9 L1100.2,103.9 M1111.0,109.0 L1111.3,109.2 L1112.2,109.9 L1113.1,110.5 L1114.0,111.2 L1114.8,111.9 L1115.7,112.6 L1116.0,112.9 M1124.7,120.9 L1125.1,121.3 L1125.8,122.1 L1126.5,122.9 L1127.1,123.7 L1127.8,124.5 L1128.4,125.3 L1128.8,125.9 M1134.9,137.0 L1135.0,137.4 L1135.4,138.3 L1135.8,139.2 L1136.1,140.1 L1136.4,141.1 L1136.8,142.0 M1140.4,154.2 L1140.5,154.4 L1140.8,155.3 L1141.0,156.3 L1141.3,157.2 L1141.6,158.2 L1141.9,159.2 L1141.9,159.2 M1145.2,170.3 L1145.3,170.6 L1145.6,171.5 L1145.9,172.5 L1146.2,173.4 L1146.5,174.3 L1146.8,175.3 L1146.9,175.3 M1150.7,186.2 L1150.8,186.5 L1151.1,187.4 L1151.5,188.4 L1151.8,189.3 L1152.2,190.2 L1152.5,191.1 L1152.6,191.2 M1156.7,201.5 L1157.0,202.2 L1157.4,203.1 L1157.8,204.0 L1158.2,204.9 L1158.6,205.9 L1158.9,206.5 M1164.0,217.5 L1164.1,217.6 L1164.5,218.5 L1164.9,219.4 L1165.4,220.3 L1165.8,221.2 L1166.3,222.1 L1166.5,222.5 M1172.2,233.4 L1172.5,233.8 L1173.0,234.6 L1173.4,235.5 L1173.9,236.4 L1174.4,237.3 L1174.9,238.2 L1175.0,238.4 M1181.5,249.6 L1181.5,249.6 L1182.0,250.5 L1182.5,251.4 L1183.0,252.3 L1183.5,253.1 L1184.1,254.0 L1184.4,254.6 M1190.7,265.4 L1191.2,266.2 L1191.7,267.0 L1192.2,267.9 L1192.7,268.8 L1193.2,269.6 L1193.6,270.4 M1199.7,281.0 L1200.1,281.6 L1200.5,282.5 L1201.0,283.3 L1201.5,284.2 L1202.0,285.0 L1202.5,285.9 L1202.5,286.0 M1208.5,296.3 L1208.9,296.9 L1209.4,297.8 L1209.8,298.6 L1210.3,299.5 L1210.8,300.3 L1211.3,301.1 L1211.4,301.3 M1218.2,312.5 L1218.5,312.9 L1219.0,313.8 L1219.5,314.6 L1220.1,315.5 L1220.6,316.3 L1221.1,317.1 L1221.4,317.5 M1228.3,328.0 L1228.3,328.1 L1228.9,328.9 L1229.5,329.7 L1230.1,330.6 L1230.7,331.4 L1231.3,332.3 L1231.8,333.0 M1239.9,344.6 L1240.1,344.8 L1240.6,345.7 L1241.2,346.5 L1241.7,347.4 L1242.3,348.2 L1242.8,349.0 L1243.2,349.6 M1249.3,359.9 L1249.4,360.0 L1249.9,360.8 L1250.3,361.6 L1250.8,362.5 L1251.3,363.3 L1251.8,364.2 L1252.2,364.9 M1258.7,375.6 L1259.0,376.0 L1259.5,376.9 L1260.0,377.7 L1260.5,378.6 L1261.0,379.4 L1261.6,380.2 L1261.8,380.6 M1268.3,391.2 L1268.4,391.3 L1268.9,392.2 L1269.5,393.0 L1270.0,393.9 L1270.5,394.7 L1271.0,395.6 L1271.4,396.2 M1277.9,406.7 L1278.0,406.8 L1278.5,407.6 L1279.0,408.5 L1279.5,409.4 L1280.1,410.2 L1280.6,411.1 L1281.0,411.7 M1287.7,422.8 L1288.0,423.2 L1288.5,424.1 L1289.0,424.9 L1289.5,425.8 L1290.0,426.7 L1290.5,427.5 L1290.7,427.8 M1297.0,438.6 L1297.1,438.9 L1297.6,439.8 L1298.1,440.6 L1298.6,441.5 L1299.1,442.4 L1299.6,443.3 L1299.8,443.6 M1305.5,454.0 L1305.8,454.7 L1306.3,455.6 L1306.8,456.4 L1307.2,457.3 L1307.7,458.2 L1308.1,459.0 M1311.6,465.8 L1311.8,466.1 L1312.3,467.0 L1312.7,467.9 L1313.2,468.8 L1313.6,469.7 L1314.1,470.6 L1314.2,470.8 M1319.2,481.0 L1319.3,481.2 L1319.8,482.1 L1320.2,483.0 L1320.6,483.9 L1321.1,484.8 L1321.5,485.7 L1321.7,486.0 M1327.2,497.7 L1327.4,498.2 L1327.8,499.1 L1328.2,500.0 L1328.6,500.8 L1329.0,501.7 L1329.5,502.6 L1329.5,502.7 M1334.4,513.4 L1334.8,514.3 L1335.2,515.2 L1335.6,516.1 L1336.1,517.0 L1336.5,517.9 L1336.7,518.4 M1341.6,529.2 L1341.8,529.6 L1342.2,530.5 L1342.7,531.4 L1343.1,532.3 L1343.5,533.3 L1343.9,534.2 L1343.9,534.2 M1348.9,544.8 L1349.0,545.0 L1349.4,545.9 L1349.8,546.8 L1350.2,547.8 L1350.7,548.7 L1351.1,549.6 L1351.2,549.8 M1356.5,560.7 L1356.8,561.4 L1357.3,562.3 L1357.8,563.2 L1358.2,564.1 L1358.7,565.0 L1359.1,565.7 M1364.8,576.2 L1365.0,576.5 L1365.5,577.3 L1366.0,578.2 L1366.5,579.1 L1367.0,579.9 L1367.6,580.8 L1367.8,581.2 M1375.1,592.1 L1375.4,592.5 L1376.0,593.3 L1376.6,594.1 L1377.2,594.9 L1377.9,595.7 L1378.5,596.5 L1379.0,597.1 M1388.0,607.8 L1388.2,608.0 L1388.8,608.8 L1389.5,609.6 L1390.1,610.3 L1390.8,611.1 L1391.4,611.9 L1392.1,612.6 L1392.2,612.8 M1400.8,623.9 L1401.1,624.4 L1401.6,625.3 L1402.2,626.1 L1402.7,626.9 L1403.2,627.8 L1403.7,628.6 L1403.9,628.9 M1409.1,639.0 L1409.2,639.1 L1409.6,640.0 L1410.0,640.9 L1410.4,641.8 L1410.7,642.7 L1411.1,643.7 L1411.3,644.0 M1415.2,655.1 L1415.5,655.9 L1415.8,656.8 L1416.1,657.8 L1416.4,658.8 L1416.6,659.7 L1416.8,660.1 M1419.8,671.1 L1419.8,671.4 L1420.1,672.4 L1420.3,673.3 L1420.6,674.3 L1420.8,675.3 L1421.0,676.1 M1423.6,686.9 L1423.6,687.1 L1423.9,688.1 L1424.1,689.0 L1424.3,690.0 L1424.5,691.0 L1424.8,691.9 M1427.3,703.0 L1427.4,703.7 L1427.7,704.7 L1427.9,705.7 L1428.1,706.7 L1428.3,707.7 L1428.4,708.0 M1431.0,719.1 L1431.1,719.4 L1431.3,720.3 L1431.5,721.3 L1431.8,722.3 L1432.0,723.3 L1432.2,724.1 M1435.0,734.9 L1435.2,735.8 L1435.5,736.8 L1435.8,737.7 L1436.0,738.7 L1436.3,739.7 L1436.4,739.9 M1439.5,750.5 L1439.7,751.1 L1440.0,752.0 L1440.3,753.0 L1440.7,753.9 L1441.0,754.8 L1441.2,755.5 M1445.2,766.5 L1445.4,767.0 L1445.8,767.9 L1446.1,768.8 L1446.5,769.7 L1446.9,770.7 L1447.3,771.5 M1452.3,782.5 L1452.7,783.3 L1453.2,784.2 L1453.6,785.1 L1454.1,786.0 L1454.6,786.9 L1454.9,787.5 M1461.1,798.2 L1461.1,798.2 L1461.7,799.1 L1462.2,799.9 L1462.8,800.8 L1463.4,801.6 L1463.9,802.5 L1464.4,803.2 M1472.3,813.6 L1472.4,813.7 L1473.1,814.5 L1473.7,815.3 L1474.4,816.0 L1475.0,816.8 L1475.7,817.5 L1476.4,818.3 L1476.7,818.6 M1486.6,828.3 L1487.1,828.7 L1487.9,829.3 L1488.6,830.0 L1489.4,830.6 L1490.2,831.2 L1491.0,831.8 L1491.6,832.3 M1502.4,839.5 L1502.4,839.5 L1503.3,840.0 L1504.2,840.4 L1505.0,840.9 L1505.9,841.4 L1506.8,841.8 L1507.4,842.1 M1518.4,846.8 L1518.7,846.9 L1519.6,847.2 L1520.5,847.5 L1521.5,847.8 L1522.4,848.2 L1523.4,848.5 L1523.4,848.5 M1534.3,851.6 L1535.0,851.7 L1536.0,852.0 L1537.0,852.2 L1538.0,852.5 L1539.0,852.7 L1539.3,852.8 M1550.2,855.1 L1550.9,855.2 L1551.9,855.4 L1552.9,855.6 L1553.9,855.8 L1554.9,856.0 L1555.2,856.0 M1565.7,858.0 L1565.8,858.0 L1566.8,858.2 L1567.8,858.4 L1568.7,858.5 L1569.7,858.7 L1570.7,858.9 M1581.5,860.6 L1581.6,860.6 L1582.6,860.8 L1583.6,860.9 L1584.5,861.1 L1585.5,861.2 L1586.5,861.4 M1597.3,862.9 L1597.4,862.9 L1598.3,863.1 L1599.3,863.2 L1600.3,863.3 L1601.3,863.4 L1602.3,863.6 L1602.3,863.6 M1613.5,864.9 L1614.1,865.0 L1615.1,865.1 L1616.1,865.2 L1617.1,865.3 L1618.1,865.4 L1618.5,865.4 M1629.5,866.5 L1630.0,866.5 L1630.9,866.6 L1631.9,866.7 L1632.9,866.8 L1633.9,866.9 L1634.5,866.9 M1645.0,867.7 L1645.9,867.8 L1646.9,867.8 L1647.9,867.9 L1648.9,868.0 L1649.9,868.0 L1650.0,868.0 M1660.0,868.6 L1660.9,868.6 L1661.9,868.7 L1662.9,868.7 L1664.0,868.7 L1665.0,868.8 L1665.0,868.8" fill="none" stroke="#00f" stroke-width="9" stroke-linecap="round" stroke-linejoin="round"/>
<path d="M218.0,966.4 L219.0,966.4 L220.0,966.5 L221.0,966.5 L222.0,966.5 L223.0,966.6 L224.0,966.6 L225.0,966.7 L226.1,966.7 L227.1,966.7 L228.1,966.8 L228.4,966.8 M246.7,967.7 L247.1,967.8 L248.2,967.8 L249.2,967.9 L250.2,968.0 L251.2,968.0 L252.2,968.1 L253.2,968.2 L254.2,968.2 L255.2,968.3 L256.2,968.4 L257.2,968.4 L258.2,968.5 L259.2,968.6 L260.2,968.6 L261.2,968.7 L261.7,968.7 M280.5,970.3 L281.2,970.3 L282.2,970.4 L283.2,970.5 L284.1,970.6 L285.1,970.7 L286.1,970.8 L287.1,970.8 L288.1,970.9 L289.1,971.0 L290.1,971.1 L291.1,971.2 L292.1,971.3 L293.1,971.4 L294.1,971.5 L295.1,971.6 L295.5,971.6 M313.5,973.4 L314.0,973.5 L315.0,973.6 L316.0,973.7 L317.0,973.8 L318.0,973.9 L319.0,974.0 L320.0,974.1 L321.0,974.2 L322.0,974.3 L323.0,974.4 L324.0,974.5 L325.0,974.6 L326.0,974.7 L327.0,974.8 L328.0,974.9 L328.5,975.0 M346.7,976.9 L346.8,976.9 L347.8,977.0 L348.8,977.1 L349.8,977.2 L350.8,977.3 L351.8,977.4 L352.8,977.5 L353.8,977.6 L354.8,977.7 L355.8,977.8 L356.8,978.0 L357.8,978.1 L358.7,978.2 L359.7,978.3 L360.7,978.4 L361.7,978.5 M380.0,980.2 L380.6,980.2 L381.6,980.3 L382.6,980.4 L383.6,980.5 L384.6,980.6 L385.6,980.7 L386.5,980.7 L387.5,980.8 L388.5,980.9 L389.5,981.0 L390.5,981.1 L391.5,981.1 L392.5,981.2 L393.5,981.3 L394.5,981.4 L395.0,981.4 M413.4,982.7 L414.4,982.8 L415.4,982.8 L416.4,982.9 L417.3,983.0 L418.3,983.0 L419.3,983.1 L420.3,983.2 L421.3,983.2 L422.3,983.3 L423.3,983.4 L424.3,983.4 L425.3,983.5 L426.3,983.6 L427.3,983.6 L428.3,983.7 L428.4,983.7 M447.0,985.1 L447.2,985.1 L448.2,985.2 L449.2,985.2 L450.2,985.3 L451.2,985.4 L452.2,985.5 L453.2,985.6 L454.2,985.7 L455.2,985.8 L456.2,985.8 L457.2,985.9 L458.2,986.0 L459.2,986.1 L460.2,986.2 L461.2,986.3 L462.0,986.4 M480.0,988.2 L480.2,988.2 L481.2,988.3 L482.2,988.4 L483.2,988.5 L484.2,988.6 L485.2,988.7 L486.2,988.8 L487.2,988.9 L488.2,989.0 L489.2,989.1 L490.2,989.2 L491.2,989.3 L492.2,989.4 L493.2,989.5 L494.2,989.6 L495.0,989.7 M513.5,991.1 L514.3,991.2 L515.3,991.3 L516.3,991.3 L517.3,991.4 L518.3,991.4 L519.3,991.5 L520.3,991.5 L521.3,991.6 L522.3,991.6 L523.4,991.7 L524.4,991.7 L525.4,991.8 L526.4,991.8 L527.4,991.9 L528.4,991.9 L528.5,991.9 M546.5,992.1 L546.6,992.1 L547.6,992.1 L548.6,992.1 L549.6,992.1 L550.6,992.1 L551.6,992.1 L552.6,992.1 L553.6,992.1 L554.7,992.0 L555.7,992.0 L556.7,992.0 L557.7,992.0 L558.7,991.9 L559.7,991.9 L560.7,991.9 L561.5,991.9 M580.0,990.9 L580.9,990.9 L581.9,990.8 L582.9,990.7 L583.9,990.6 L584.9,990.6 L585.9,990.5 L586.9,990.4 L587.9,990.3 L588.9,990.2 L589.9,990.2 L590.9,990.1 L591.9,990.0 L592.9,989.9 L593.9,989.8 L594.9,989.7 L595.0,989.7 M613.5,987.7 L613.8,987.7 L614.8,987.5 L615.8,987.4 L616.8,987.3 L617.8,987.2 L618.8,987.0 L619.8,986.9 L620.7,986.8 L621.7,986.7 L622.7,986.5 L623.7,986.4 L624.7,986.2 L625.7,986.1 L626.7,986.0 L627.6,985.8 L628.5,985.7 M646.4,982.9 L647.1,982.8 L648.1,982.6 L649.1,982.4 L650.0,982.3 L651.0,982.1 L652.0,981.9 L652.9,981.7 L653.9,981.6 L654.9,981.4 L655.8,981.2 L656.8,981.0 L657.7,980.9 L658.7,980.7 L659.6,980.5 L660.6,980.3 L661.4,980.1 M679.8,974.8 L680.2,974.7 L681.1,974.3 L682.0,973.9 L682.9,973.5 L683.8,973.1 L684.7,972.6 L685.6,972.2 L686.5,971.7 L687.4,971.2 L688.2,970.7 L689.1,970.2 L690.0,969.7 L690.9,969.1 L691.7,968.5 L692.6,968.0 L693.5,967.4 L694.3,966.8 L694.8,966.4 M713.2,960.2 L713.8,960.4 L714.8,960.7 L715.8,961.0 L716.8,961.3 L717.7,961.6 L718.7,961.8 L719.7,962.1 L720.7,962.4 L721.7,962.7 L722.7,963.0 L723.7,963.2 L724.7,963.5 L725.7,963.7 L726.6,963.9 L727.6,964.1 L728.2,964.2 M762.6,960.9 L763.0,960.7 L764.0,960.5 L765.0,960.2 L765.9,960.0 L766.9,959.7 L767.8,959.4 L768.8,959.1 L769.7,958.9 L770.7,958.6 L771.6,958.3 L772.6,958.0 L773.5,957.7 L774.4,957.4 L775.4,957.0 L776.3,956.7 L777.2,956.4 L777.6,956.2 M795.8,947.3 L796.0,947.2 L796.9,946.6 L797.7,946.0 L798.6,945.4 L799.4,944.8 L800.3,944.2 L801.1,943.6 L801.9,942.9 L802.8,942.3 L803.6,941.6 L804.4,941.0 L805.2,940.3 L806.0,939.7 L806.8,939.0 L807.6,938.3 L808.4,937.6 L809.2,936.9 L810.0,936.2 L810.8,935.6 L810.8,935.5 M828.3,922.4 L828.7,922.5 L829.6,922.8 L830.6,923.1 L831.5,923.4 L832.5,923.7 L833.4,924.0 L834.4,924.3 L835.3,924.5 L836.3,924.8 L837.3,925.0 L838.2,925.3 L839.2,925.5 L840.2,925.7 L841.2,925.9 L842.1,926.1 L843.1,926.3 L843.3,926.3 M861.5,928.0 L862.0,928.0 L863.0,928.0 L864.0,928.0 L865.0,928.0 L866.0,927.9 L867.0,927.9 L868.1,927.9 L869.1,927.8 L870.1,927.7 L871.1,927.7 L872.1,927.6 L873.1,927.5 L874.1,927.4 L875.1,927.3 L876.1,927.2 L876.5,927.1 M895.2,923.2 L895.7,923.1 L896.7,922.8 L897.6,922.5 L898.6,922.1 L899.5,921.8 L900.5,921.5 L901.4,921.2 L902.4,920.8 L903.3,920.5 L904.2,920.1 L905.2,919.7 L906.1,919.3 L907.0,918.9 L907.9,918.5 L908.8,918.1 L909.7,917.7 L910.2,917.5 M927.9,906.2 L928.1,906.1 L928.9,905.4 L929.7,904.8 L930.4,904.1 L931.1,903.4 L931.9,902.7 L932.6,902.0 L933.3,901.3 L934.0,900.6 L934.7,899.9 L935.4,899.2 L936.1,898.4 L936.8,897.7 L937.5,896.9 L938.1,896.2 L938.8,895.4 L939.4,894.6 L940.1,893.8 L940.7,893.0 L941.4,892.3 L941.8,891.7 M954.0,873.6 L954.5,872.7 L955.0,871.9 L955.5,871.0 L956.0,870.1 L956.5,869.2 L957.0,868.3 L957.5,867.5 L958.0,866.6 L958.5,865.7 L958.9,864.8 L959.4,863.9 L959.9,863.0 L960.3,862.1 L960.8,861.2 L961.3,860.4 L961.7,859.5 L962.2,858.6 L962.2,858.6 M970.5,840.5 L970.8,839.6 L971.2,838.7 L971.5,837.8 L971.9,836.9 L972.3,836.0 L972.6,835.1 L973.0,834.2 L973.4,833.3 L973.7,832.3 L974.1,831.4 L974.4,830.5 L974.8,829.6 L975.1,828.7 L975.5,827.8 L975.8,826.8 L976.2,825.9 L976.3,825.5 M982.7,807.2 L982.9,806.4 L983.2,805.5 L983.5,804.5 L983.8,803.6 L984.1,802.7 L984.4,801.7 L984.7,800.8 L985.0,799.9 L985.3,798.9 L985.6,798.0 L985.9,797.0 L986.2,796.1 L986.5,795.2 L986.8,794.2 L987.1,793.3 L987.4,792.3 L987.4,792.2 M992.9,774.1 L993.1,773.3 L993.4,772.4 L993.7,771.4 L993.9,770.5 L994.2,769.5 L994.5,768.5 L994.8,767.6 L995.0,766.6 L995.3,765.7 L995.6,764.7 L995.9,763.8 L996.1,762.8 L996.4,761.8 L996.7,760.9 L996.9,759.9 L997.2,759.1 M1002.3,740.3 L1002.5,739.6 L1002.7,738.7 L1003.0,737.7 L1003.3,736.7 L1003.5,735.7 L1003.8,734.8 L1004.0,733.8 L1004.3,732.8 L1004.5,731.8 L1004.8,730.9 L1005.0,729.9 L1005.3,728.9 L1005.5,728.0 L1005.8,727.0 L1006.0,726.0 L1006.2,725.3 M1010.8,706.8 L1010.9,706.5 L1011.1,705.5 L1011.3,704.5 L1011.5,703.5 L1011.8,702.5 L1012.0,701.6 L1012.2,700.6 L1012.5,699.6 L1012.7,698.6 L1012.9,697.6 L1013.2,696.6 L1013.4,695.7 L1013.6,694.7 L1013.8,693.7 L1014.1,692.7 L1014.3,691.8 M1018.3,673.6 L1018.4,673.0 L1018.6,672.0 L1018.8,671.1 L1019.0,670.1 L1019.2,669.1 L1019.4,668.1 L1019.6,667.1 L1019.8,666.1 L1020.0,665.1 L1020.2,664.2 L1020.4,663.2 L1020.6,662.2 L1020.8,661.2 L1021.0,660.2 L1021.2,659.2 L1021.4,658.6 M1024.9,640.6 L1024.9,640.5 L1025.1,639.5 L1025.3,638.5 L1025.4,637.5 L1025.6,636.5 L1025.8,635.5 L1026.0,634.5 L1026.2,633.6 L1026.3,632.6 L1026.5,631.6 L1026.7,630.6 L1026.9,629.6 L1027.1,628.6 L1027.2,627.6 L1027.4,626.6 L1027.6,625.7 L1027.6,625.6 M1030.8,607.1 L1030.8,606.9 L1031.0,605.9 L1031.1,604.9 L1031.3,603.9 L1031.4,602.9 L1031.6,601.9 L1031.8,600.9 L1031.9,599.9 L1032.1,598.9 L1032.2,598.0 L1032.4,597.0 L1032.6,596.0 L1032.7,595.0 L1032.9,594.0 L1033.0,593.0 L1033.2,592.1 M1035.9,574.0 L1036.0,573.2 L1036.1,572.2 L1036.3,571.2 L1036.4,570.2 L1036.6,569.2 L1036.7,568.2 L1036.9,567.2 L1037.0,566.3 L1037.1,565.3 L1037.3,564.3 L1037.4,563.3 L1037.5,562.3 L1037.7,561.3 L1037.8,560.3 L1038.0,559.3 L1038.0,559.0 M1040.4,540.7 L1040.5,540.5 L1040.6,539.5 L1040.7,538.5 L1040.9,537.5 L1041.0,536.5 L1041.1,535.5 L1041.2,534.5 L1041.4,533.5 L1041.5,532.5 L1041.6,531.5 L1041.7,530.5 L1041.9,529.6 L1042.0,528.6 L1042.1,527.6 L1042.2,526.6 L1042.3,525.7 M1044.5,507.3 L1044.6,506.7 L1044.7,505.7 L1044.8,504.7 L1044.9,503.7 L1045.0,502.7 L1045.2,501.7 L1045.3,500.8 L1045.4,499.8 L1045.5,498.8 L1045.6,497.8 L1045.7,496.8 L1045.8,495.8 L1045.9,494.8 L1046.1,493.8 L1046.2,492.8 L1046.2,492.3 M1048.2,474.0 L1048.2,473.9 L1048.3,472.9 L1048.4,471.9 L1048.5,470.9 L1048.6,469.9 L1048.7,468.9 L1048.8,467.9 L1048.9,467.0 L1049.0,466.0 L1049.1,465.0 L1049.2,464.0 L1049.3,463.0 L1049.4,462.0 L1049.5,461.0 L1049.7,460.0 L1049.8,459.0 M1051.6,441.0 L1051.6,440.1 L1051.7,439.1 L1051.8,438.1 L1051.9,437.1 L1052.0,436.1 L1052.1,435.1 L1052.2,434.1 L1052.3,433.1 L1052.4,432.1 L1052.5,431.1 L1052.6,430.2 L1052.7,429.2 L1052.8,428.2 L1052.9,427.2 L1053.0,426.2 L1053.0,426.0 M1054.7,407.6 L1054.8,407.3 L1054.9,406.3 L1055.0,405.3 L1055.1,404.3 L1055.2,403.3 L1055.2,402.3 L1055.3,401.3 L1055.4,400.3 L1055.5,399.3 L1055.6,398.3 L1055.7,397.3 L1055.8,396.3 L1055.9,395.3 L1056.0,394.3 L1056.1,393.3 L1056.1,392.6 M1057.9,374.1 L1057.9,373.4 L1058.0,372.4 L1058.1,371.4 L1058.2,370.4 L1058.3,369.4 L1058.4,368.5 L1058.5,367.5 L1058.6,366.5 L1058.7,365.5 L1058.7,364.5 L1058.8,363.5 L1058.9,362.5 L1059.0,361.5 L1059.1,360.5 L1059.2,359.5 L1059.2,359.1 M1060.9,341.2 L1061.0,340.6 L1061.1,339.6 L1061.2,338.6 L1061.3,337.6 L1061.3,336.6 L1061.4,335.6 L1061.5,334.6 L1061.6,333.6 L1061.7,332.6 L1061.8,331.6 L1061.9,330.6 L1062.0,329.6 L1062.1,328.6 L1062.2,327.7 L1062.3,326.7 L1062.3,326.2 M1064.2,307.2 L1064.2,306.8 L1064.3,305.8 L1064.4,304.8 L1064.5,303.8 L1064.6,302.8 L1064.7,301.8 L1064.8,300.8 L1064.9,299.8 L1065.0,298.8 L1065.1,297.8 L1065.2,296.8 L1065.3,295.8 L1065.4,294.8 L1065.5,293.8 L1065.6,292.8 L1065.7,292.2 M1067.5,274.2 L1067.6,274.0 L1067.7,273.0 L1067.8,272.0 L1067.9,271.0 L1068.0,270.0 L1068.1,269.0 L1068.2,268.0 L1068.3,267.0 L1068.4,266.0 L1068.5,265.0 L1068.6,264.0 L1068.7,263.0 L1068.8,262.0 L1069.0,261.0 L1069.1,260.0 L1069.2,259.2 M1071.3,240.7 L1071.3,240.2 L1071.4,239.2 L1071.5,238.2 L1071.7,237.2 L1071.8,236.2 L1071.9,235.2 L1072.0,234.2 L1072.1,233.2 L1072.3,232.2 L1072.4,231.2 L1072.5,230.2 L1072.6,229.3 L1072.7,228.3 L1072.8,227.3 L1073.0,226.3 L1073.0,225.7 M1075.3,207.5 L1075.3,207.4 L1075.5,206.4 L1075.6,205.4 L1075.7,204.4 L1075.9,203.5 L1076.0,202.5 L1076.1,201.5 L1076.3,200.5 L1076.4,199.5 L1076.5,198.5 L1076.7,197.5 L1076.8,196.5 L1076.9,195.5 L1077.1,194.5 L1077.2,193.5 L1077.3,192.5 L1077.3,192.5 M1079.9,174.2 L1080.0,173.7 L1080.1,172.7 L1080.3,171.7 L1080.4,170.7 L1080.6,169.8 L1080.7,168.8 L1080.9,167.8 L1081.0,166.8 L1081.2,165.8 L1081.3,164.8 L1081.5,163.8 L1081.6,162.8 L1081.8,161.8 L1081.9,160.8 L1082.1,159.9 L1082.2,159.2 M1085.4,139.0 L1085.6,138.1 L1085.7,137.1 L1085.9,136.1 L1086.1,135.1 L1086.2,134.1 L1086.4,133.2 L1086.6,132.2 L1086.8,131.2 L1086.9,130.2 L1087.1,129.2 L1087.3,128.2 L1087.4,127.2 L1087.6,126.2 L1087.8,125.2 L1088.0,124.3 L1088.0,124.0 M1096.4,107.3 L1097.4,107.7 L1098.3,108.0 L1099.3,108.4 L1100.2,108.8 L1101.1,109.3 L1102.0,109.7 L1102.9,110.1 L1103.8,110.6 L1104.7,111.1 L1105.5,111.5 L1106.4,112.1 L1107.2,112.6 L1108.0,113.1 L1108.7,113.7 L1109.5,114.3 L1110.2,114.9 L1110.9,115.6 L1111.4,116.1 M1123.4,133.6 L1123.4,133.7 L1124.1,134.5 L1124.7,135.3 L1125.3,136.0 L1126.0,136.8 L1126.7,137.5 L1127.3,138.2 L1128.0,139.0 L1128.7,139.7 L1129.4,140.3 L1130.2,141.0 L1130.9,141.7 L1131.6,142.3 L1132.4,143.0 L1133.2,143.6 L1133.9,144.3 L1134.7,144.9 L1135.5,145.5 L1136.3,146.1 L1137.1,146.7 L1137.6,147.2 M1155.6,160.2 L1155.7,160.3 L1156.5,160.9 L1157.3,161.5 L1158.0,162.2 L1158.8,162.8 L1159.6,163.4 L1160.3,164.1 L1161.1,164.7 L1161.8,165.4 L1162.5,166.1 L1163.3,166.7 L1164.0,167.4 L1164.7,168.1 L1165.5,168.7 L1166.2,169.4 L1166.9,170.1 L1167.6,170.8 L1168.4,171.5 L1169.1,172.1 L1169.8,172.8 L1170.5,173.5 L1170.6,173.7 M1187.6,191.5 L1187.7,191.6 L1188.4,192.3 L1189.1,193.1 L1189.8,193.8 L1190.4,194.5 L1191.1,195.3 L1191.8,196.0 L1192.5,196.7 L1193.2,197.5 L1193.9,198.2 L1194.6,198.9 L1195.3,199.7 L1196.0,200.4 L1196.7,201.1 L1197.4,201.9 L1198.1,202.6 L1198.8,203.3 L1199.5,204.1 L1200.2,204.8 L1200.9,205.5 L1201.6,206.3 L1201.8,206.5 M1218.2,223.3 L1218.5,223.5 L1219.2,224.2 L1219.9,224.9 L1220.6,225.7 L1221.3,226.4 L1222.0,227.1 L1222.7,227.8 L1223.4,228.5 L1224.1,229.2 L1224.8,229.9 L1225.5,230.6 L1226.2,231.3 L1226.9,232.0 L1227.6,232.7 L1228.3,233.3 L1229.0,234.0 L1229.8,234.7 L1230.5,235.4 L1231.2,236.1 L1231.9,236.8 L1232.6,237.5 L1233.2,238.2 M1250.8,255.8 L1251.4,256.4 L1252.1,257.1 L1252.8,257.9 L1253.4,258.6 L1254.1,259.3 L1254.8,260.0 L1255.5,260.7 L1256.2,261.5 L1256.8,262.2 L1257.5,262.9 L1258.2,263.6 L1258.9,264.4 L1259.6,265.1 L1260.2,265.8 L1260.9,266.6 L1261.6,267.3 L1262.2,268.1 L1262.9,268.8 L1263.6,269.5 L1264.2,270.3 L1264.7,270.8 M1279.9,289.2 L1280.4,289.8 L1281.1,290.6 L1281.7,291.4 L1282.3,292.2 L1282.9,293.0 L1283.6,293.8 L1284.2,294.6 L1284.8,295.4 L1285.4,296.3 L1286.0,297.1 L1286.6,297.9 L1287.2,298.7 L1287.8,299.5 L1288.4,300.3 L1289.0,301.1 L1289.6,302.0 L1290.2,302.8 L1290.8,303.6 L1291.2,304.2 M1310.6,332.9 L1310.9,333.4 L1311.4,334.2 L1311.9,335.1 L1312.5,335.9 L1313.0,336.7 L1313.5,337.6 L1314.0,338.4 L1314.5,339.2 L1315.1,340.1 L1315.6,340.9 L1316.1,341.8 L1316.6,342.6 L1317.1,343.5 L1317.6,344.3 L1318.1,345.1 L1318.6,346.0 L1319.1,346.8 L1319.6,347.7 L1319.8,347.9 M1330.6,366.7 L1331.0,367.3 L1331.5,368.2 L1332.0,369.0 L1332.5,369.9 L1332.9,370.8 L1333.4,371.6 L1333.9,372.5 L1334.4,373.4 L1334.9,374.2 L1335.3,375.1 L1335.8,376.0 L1336.3,376.8 L1336.8,377.7 L1337.3,378.6 L1337.7,379.5 L1338.2,380.3 L1338.7,381.2 L1338.9,381.7 M1348.3,399.5 L1348.4,399.8 L1348.9,400.7 L1349.4,401.6 L1349.8,402.5 L1350.3,403.3 L1350.7,404.2 L1351.2,405.1 L1351.6,406.0 L1352.1,406.9 L1352.5,407.8 L1353.0,408.8 L1353.4,409.7 L1353.8,410.6 L1354.3,411.5 L1354.7,412.4 L1355.2,413.3 L1355.6,414.2 L1355.8,414.5 M1364.4,433.1 L1364.5,433.5 L1364.9,434.4 L1365.4,435.3 L1365.8,436.2 L1366.2,437.2 L1366.6,438.1 L1367.0,439.0 L1367.4,440.0 L1367.8,440.9 L1368.2,441.8 L1368.6,442.8 L1369.0,443.7 L1369.4,444.6 L1369.8,445.6 L1370.1,446.5 L1370.5,447.4 L1370.8,448.1 M1377.9,466.3 L1378.3,467.2 L1378.6,468.2 L1379.0,469.1 L1379.3,470.1 L1379.7,471.0 L1380.0,472.0 L1380.3,472.9 L1380.7,473.9 L1381.0,474.8 L1381.3,475.8 L1381.7,476.7 L1382.0,477.7 L1382.3,478.6 L1382.6,479.6 L1383.0,480.5 L1383.2,481.3 M1388.9,499.6 L1388.9,499.7 L1389.2,500.6 L1389.4,501.6 L1389.7,502.5 L1390.0,503.5 L1390.2,504.5 L1390.5,505.4 L1390.7,506.4 L1391.0,507.3 L1391.2,508.3 L1391.5,509.3 L1391.7,510.2 L1392.0,511.2 L1392.2,512.1 L1392.5,513.1 L1392.7,514.1 L1392.8,514.6 M1397.1,533.1 L1397.2,533.3 L1397.4,534.3 L1397.6,535.2 L1397.8,536.2 L1398.0,537.1 L1398.2,538.1 L1398.5,539.1 L1398.7,540.0 L1398.9,541.0 L1399.1,541.9 L1399.3,542.9 L1399.5,543.9 L1399.7,544.8 L1400.0,545.8 L1400.2,546.7 L1400.4,547.7 L1400.5,548.1 M1405.1,566.4 L1405.2,566.8 L1405.4,567.8 L1405.7,568.7 L1405.9,569.7 L1406.2,570.6 L1406.5,571.6 L1406.8,572.5 L1407.0,573.5 L1407.3,574.4 L1407.6,575.4 L1407.9,576.3 L1408.2,577.3 L1408.5,578.2 L1408.8,579.2 L1409.1,580.1 L1409.4,581.1 L1409.5,581.4 M1415.6,598.7 L1415.7,599.0 L1416.1,599.9 L1416.5,600.9 L1416.8,601.8 L1417.2,602.8 L1417.5,603.7 L1417.9,604.6 L1418.3,605.6 L1418.6,606.5 L1419.0,607.5 L1419.4,608.4 L1419.8,609.3 L1420.1,610.3 L1420.5,611.2 L1420.9,612.2 L1421.3,613.1 L1421.5,613.7 M1429.4,632.5 L1429.5,632.7 L1429.9,633.7 L1430.3,634.6 L1430.7,635.5 L1431.1,636.5 L1431.5,637.4 L1431.9,638.3 L1432.3,639.3 L1432.7,640.2 L1433.1,641.1 L1433.5,642.1 L1433.9,643.0 L1434.3,643.9 L1434.7,644.9 L1435.1,645.8 L1435.4,646.7 L1435.8,647.5 M1443.6,666.4 L1443.9,667.2 L1444.3,668.2 L1444.7,669.1 L1445.0,670.0 L1445.4,671.0 L1445.7,671.9 L1446.1,672.8 L1446.5,673.8 L1446.8,674.7 L1447.2,675.6 L1447.5,676.6 L1447.9,677.5 L1448.2,678.4 L1448.6,679.4 L1448.9,680.3 L1449.3,681.2 L1449.3,681.4 M1455.6,699.1 L1455.8,699.9 L1456.2,700.9 L1456.5,701.8 L1456.8,702.7 L1457.1,703.7 L1457.4,704.6 L1457.7,705.5 L1458.0,706.5 L1458.3,707.4 L1458.7,708.4 L1459.0,709.3 L1459.3,710.2 L1459.6,711.2 L1459.9,712.1 L1460.2,713.1 L1460.5,714.0 L1460.5,714.1 M1466.6,732.7 L1466.6,732.9 L1466.9,733.8 L1467.3,734.8 L1467.6,735.7 L1467.9,736.7 L1468.2,737.6 L1468.5,738.6 L1468.8,739.5 L1469.1,740.5 L1469.4,741.4 L1469.7,742.4 L1470.1,743.3 L1470.4,744.3 L1470.7,745.2 L1471.0,746.2 L1471.3,747.1 L1471.5,747.7 M1478.2,766.2 L1478.5,767.0 L1478.8,768.0 L1479.2,768.9 L1479.6,769.8 L1480.0,770.8 L1480.3,771.7 L1480.7,772.6 L1481.1,773.6 L1481.5,774.5 L1481.9,775.4 L1482.3,776.3 L1482.7,777.3 L1483.1,778.2 L1483.5,779.1 L1483.9,780.0 L1484.3,780.9 L1484.4,781.2 M1493.8,799.2 L1494.1,799.6 L1494.6,800.5 L1495.1,801.4 L1495.6,802.2 L1496.2,803.1 L1496.7,803.9 L1497.3,804.8 L1497.8,805.6 L1498.4,806.4 L1498.9,807.3 L1499.5,808.1 L1500.1,808.9 L1500.7,809.7 L1501.3,810.6 L1501.9,811.4 L1502.5,812.2 L1503.1,813.0 L1503.7,813.8 L1504.0,814.2 M1522.3,831.5 L1522.3,831.5 L1523.2,832.0 L1524.0,832.6 L1524.8,833.1 L1525.7,833.6 L1526.5,834.1 L1527.4,834.6 L1528.2,835.0 L1529.1,835.5 L1530.0,836.0 L1530.9,836.4 L1531.8,836.8 L1532.7,837.3 L1533.6,837.7 L1534.5,838.1 L1535.4,838.5 L1536.3,838.9 L1537.2,839.3 L1537.3,839.3 M1555.8,845.5 L1556.4,845.7 L1557.4,845.9 L1558.3,846.2 L1559.3,846.5 L1560.3,846.7 L1561.3,847.0 L1562.3,847.2 L1563.2,847.5 L1564.2,847.7 L1565.2,848.0 L1566.2,848.2 L1567.2,848.5 L1568.1,848.7 L1569.1,849.0 L1570.1,849.2 L1570.8,849.4 M1589.5,853.6 L1589.7,853.7 L1590.7,853.9 L1591.7,854.1 L1592.6,854.3 L1593.6,854.5 L1594.6,854.7 L1595.6,854.8 L1596.6,855.0 L1597.5,855.2 L1598.5,855.4 L1599.5,855.6 L1600.5,855.8 L1601.5,855.9 L1602.4,856.1 L1603.4,856.3 L1604.4,856.4 L1604.5,856.5 M1622.7,859.1 L1623.1,859.2 L1624.1,859.3 L1625.1,859.4 L1626.0,859.6 L1627.0,859.7 L1628.0,859.8 L1629.0,859.9 L1630.0,860.0 L1631.0,860.1 L1632.0,860.2 L1633.0,860.3 L1634.0,860.4 L1635.0,860.5 L1635.9,860.6 L1636.9,860.6 L1637.7,860.7 M1656.0,861.9 L1656.9,861.9 L1657.9,861.9 L1658.9,862.0 L1659.9,862.0 L1660.9,862.0 L1661.9,862.1 L1662.9,862.1 L1664.0,862.1 L1665.0,862.1 L1666.0,862.2 L1667.0,862.2 L1668.0,862.2" fill="none" stroke="#f00" stroke-width="9" stroke-linecap="round" stroke-linejoin="round"/>
</g>
<g shape-rendering="crispEdges">
<path d="M260,37 H373.9" stroke="#000" stroke-width="8" stroke-linecap="round" fill="none"/>
<path d="M260.4,116.4 H359.6" stroke="#00f" stroke-width="9" stroke-linecap="round" stroke-dasharray="5 10.7" fill="none"/>
<path d="M260.4,195.4 H341.5" stroke="#f00" stroke-width="9" stroke-linecap="round" stroke-dasharray="15 18.2" fill="none"/>
</g>
<g font-family="'Liberation Serif', 'Times New Roman', serif" fill="#000" filter="url(#bin)">
<text x="186.5" y="1019.3" text-anchor="end" font-size="65.2">0.0</text>
<text x="186.5" y="840.5" text-anchor="end" font-size="65.2">0.2</text>
<text x="186.5" y="661.7" text-anchor="end" font-size="65.2">0.4</text>
<text x="186.5" y="482.9" text-anchor="end" font-size="65.2">0.6</text>
<text x="186.5" y="304.1" text-anchor="end" font-size="65.2">0.8</text>
<text x="186.5" y="125.3" text-anchor="end" font-size="65.2">1.0</text>
<text x="221.5" y="1176" text-anchor="middle" font-size="65.2">-5</text>
<text x="365.8" y="1176" text-anchor="middle" font-size="65.2">-4</text>
<text x="510.1" y="1176" text-anchor="middle" font-size="65.2">-3</text>
<text x="654.4" y="1176" text-anchor="middle" font-size="65.2">-2</text>
<text x="798.7" y="1176" text-anchor="middle" font-size="65.2">-1</text>
<text x="943.0" y="1176" text-anchor="middle" font-size="65.2">0</text>
<text x="1087.3" y="1176" text-anchor="middle" font-size="65.2">1</text>
<text x="1231.6" y="1176" text-anchor="middle" font-size="65.2">2</text>
<text x="1375.9" y="1176" text-anchor="middle" font-size="65.2">3</text>
<text x="1520.2" y="1176" text-anchor="middle" font-size="65.2">4</text>
<text x="1664.5" y="1176" text-anchor="middle" font-size="65.2">5</text>
<text x="344.8" y="1246.3" font-size="74.6">Distance along the contact surface (mm)</text>
<text transform="translate(72,940.8) rotate(-90)" font-size="74.4">The accumulated damage</text>
<text x="384.9" y="56.4" font-size="65.2">Unpeened, 12000 cycles</text>
<text x="384.2" y="135.1" font-size="65.2">0.1 mmA, 94000 cycles</text>
<text x="382.2" y="214.6" font-size="65.2">0.2 mmA, 124000 cycles</text>
</g>
</svg>
</body></html>
